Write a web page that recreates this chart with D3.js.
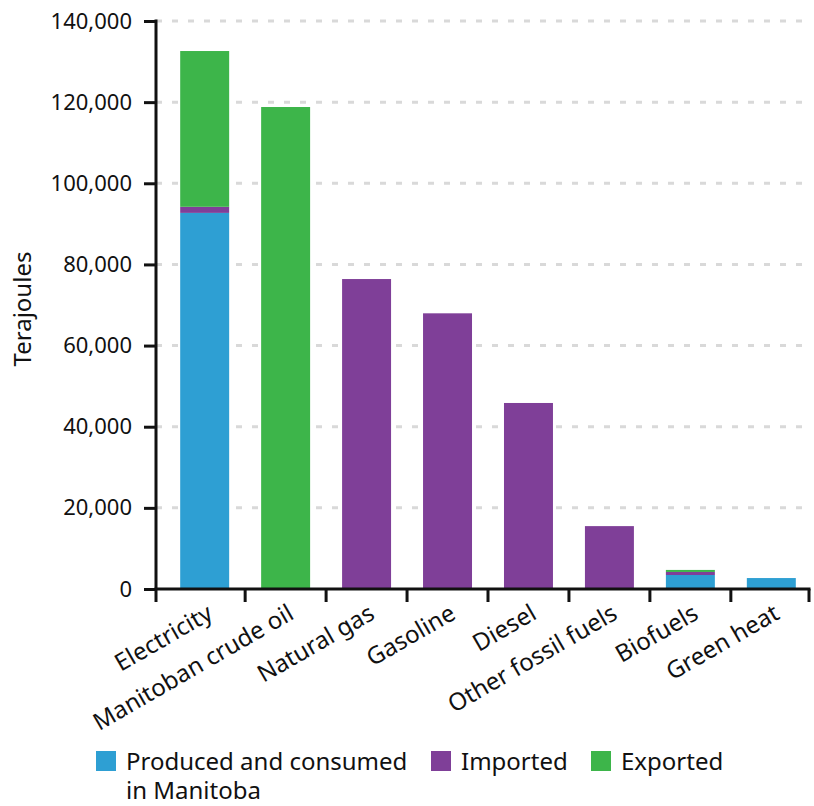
<!DOCTYPE html>
<html lang="en">
<head>
    <meta charset="UTF-8">
    <title>Manitoba energy</title>
    <script src="https://d3js.org/d3.v7.min.js"></script>
    <style>
        body { margin: 0; background: #ffffff; }
        text { font-family: 'Noto Sans', sans-serif; fill: #111; }
        .grid line { stroke: #d9d9d9; stroke-width: 3; stroke-dasharray: 6 10; }
        .axis path, .axis line { stroke: #111; stroke-width: 3; }
        .tick text { font-size: 22px; }
        .catLabel { font-size: 24px; }
        .leyenda { font-size: 24px; }
    </style>
</head>
<body>
<div id="grafico"></div>
<script>
var w = 814, h = 806;

// datos (terajoules)
var categorias = ["Electricity", "Manitoban crude oil", "Natural gas", "Gasoline", "Diesel", "Other fossil fuels", "Biofuels", "Green heat"];
var producido = [92700, 0, 0, 0, 0, 0, 3450, 2700];
var importado = [1500, 0, 76400, 67950, 45850, 15500, 750, 0];
var exportado = [38400, 118800, 0, 0, 0, 0, 500, 0];
var yTicks = [0, 20000, 40000, 60000, 80000, 100000, 120000, 140000];

var series = ["Producido", "Importado", "Exportado"];
var nombresLeyenda = [["Produced and consumed", "in Manitoba"], ["Imported"], ["Exported"]];
var colores = ["#2e9fd3", "#7f3f98", "#3db54a"];

var tabla = categorias.map(function(c, i){
    return { cat: c, Producido: producido[i], Importado: importado[i], Exportado: exportado[i] };
});

var ejeIzq = 156, ejeDer = 809, base = 589, tope = 21;

var xScale = d3.scaleBand()
    .domain(categorias)
    .range([164, 812])
    .paddingInner(0.395)
    .paddingOuter(0.2);

var yScale = d3.scaleLinear()
    .domain([0, 140000])
    .range([base, tope]);

var svg = d3.select("#grafico")
    .append("svg")
    .attr("width", w)
    .attr("height", h);

// lineas de guia
svg.append("g")
    .attr("class", "grid")
    .selectAll("line")
    .data(yTicks.filter(function(d){ return d > 0; }))
    .enter()
    .append("line")
    .attr("x1", ejeIzq)
    .attr("x2", ejeDer)
    .attr("y1", function(d){ return yScale(d); })
    .attr("y2", function(d){ return yScale(d); });

// barras apiladas
var pila = d3.stack().keys(series)(tabla);

svg.append("g")
    .selectAll("g")
    .data(pila)
    .enter()
    .append("g")
    .attr("fill", function(d, i){ return colores[i]; })
    .selectAll("rect")
    .data(function(d){ return d; })
    .enter()
    .append("rect")
    .attr("x", function(d){ return xScale(d.data.cat); })
    .attr("width", xScale.bandwidth())
    .attr("y", function(d){ return yScale(d[1]); })
    .attr("height", function(d){ return yScale(d[0]) - yScale(d[1]); });

// eje Y
var yAxis = d3.axisLeft(yScale)
    .tickValues(yTicks)
    .tickFormat(d3.format(","))
    .tickSize(12)
    .tickPadding(12)
    .tickSizeOuter(0);

svg.append("g")
    .attr("class", "axis")
    .attr("transform", "translate(" + ejeIzq + ",0)")
    .call(yAxis)
    .call(function(g){ g.select(".domain").attr("d", "M0," + (tope - 1.5) + "V" + base); });

// eje X con marcas entre barras
var paso = xScale.step();
var hueco = paso - xScale.bandwidth();
var marcas = [ejeIzq];
categorias.slice(1).forEach(function(c){ marcas.push(xScale(c) - hueco / 2); });
marcas.push(ejeDer);

var ejeX = svg.append("g").attr("class", "axis");
ejeX.append("line")
    .attr("x1", ejeIzq - 1.5)
    .attr("x2", ejeDer + 1.5)
    .attr("y1", base)
    .attr("y2", base);
ejeX.selectAll(".marca")
    .data(marcas)
    .enter()
    .append("line")
    .attr("class", "marca")
    .attr("x1", function(d){ return d; })
    .attr("x2", function(d){ return d; })
    .attr("y1", base)
    .attr("y2", base + 13);

svg.selectAll(".catLabel")
    .data(categorias)
    .enter()
    .append("text")
    .attr("class", "catLabel")
    .attr("text-anchor", "end")
    .attr("dy", "0.72em")
    .attr("transform", function(d){
        return "translate(" + (xScale(d) + xScale.bandwidth() / 2 + 1) + "," + 603 + ") rotate(-30)";
    })
    .text(function(d){ return d; });

// titulo eje Y
svg.append("text")
    .attr("transform", "translate(31,309) rotate(-90)")
    .attr("text-anchor", "middle")
    .style("font-size", "24px")
    .text("Terajoules");

// leyenda
var posLeyenda = [96, 431, 591];
var leyenda = svg.selectAll(".itemLeyenda")
    .data(series)
    .enter()
    .append("g")
    .attr("class", "itemLeyenda")
    .attr("transform", function(d, i){ return "translate(" + posLeyenda[i] + ",751)"; });

leyenda.append("rect")
    .attr("width", 20)
    .attr("height", 20)
    .attr("fill", function(d, i){ return colores[i]; });

leyenda.append("text")
    .attr("class", "leyenda")
    .attr("x", 30)
    .attr("y", 19)
    .selectAll("tspan")
    .data(function(d, i){ return nombresLeyenda[i]; })
    .enter()
    .append("tspan")
    .attr("x", 30)
    .attr("dy", function(d, j){ return j === 0 ? 0 : 29; })
    .text(function(d){ return d; });
</script>
</body>
</html>
